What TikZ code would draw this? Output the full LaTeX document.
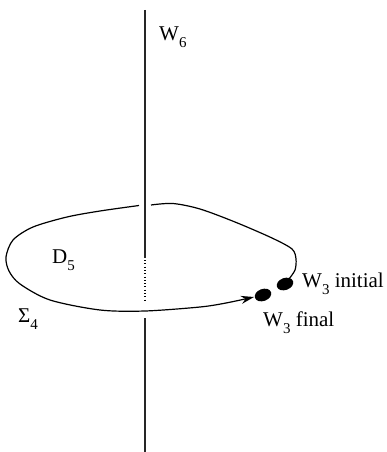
\documentclass[tikz,border=0pt]{standalone}
\usepackage{fontspec}
\setmainfont{Liberation Serif}
\usetikzlibrary{arrows.meta,shapes.geometric}
\newcommand{\lowsub}[1]{\raisebox{-7pt}{\fontsize{15}{15}\selectfont #1}}
\tikzset{
  lbl/.style={anchor=base west,inner sep=0pt,font=\fontsize{21}{21}\selectfont},
  dotnode/.style={ellipse,fill=black,draw=none,minimum width=17pt,minimum height=12pt,inner sep=0pt,rotate=20},
  axis/.style={line width=1.4pt,black!85},
  hidden/.style={line width=1.2pt,dash pattern=on 1pt off 2.3pt},
  loopline/.style={line width=1.2pt},
}
\begin{document}
\begin{tikzpicture}[x=1pt,y=-1pt]
\useasboundingbox (0,0) rectangle (387,452);
% labels
\node[lbl] (w6) at (159,41) {W\lowsub{6}};
\node[lbl] (d5) at (52,263) {D\lowsub{5}};
\node[lbl] (s4) at (18,322) {Σ\lowsub{4}};
\node[lbl] (w3i) at (302,287) {W\lowsub{3} initial};
\node[lbl] (w3f) at (263,326) {W\lowsub{3} final};
% dots
\node[dotnode] (ini) at (285,284) {};
\node[dotnode] (fin) at (263,295) {};
% vertical line W6
\coordinate (vtop) at (145,10);
\coordinate (vA) at (145,258);
\coordinate (vB) at (145,260);
\coordinate (vC) at (145,302);
\coordinate (vD) at (145,318);
\coordinate (vbot) at (145,452);
\draw[axis] (vtop) -- (vA);
\draw[hidden] (vB) -- (vC);
\draw[axis] (vD) -- (vbot);
% loop
\coordinate (gapR) at (151,205);
\coordinate (gapL) at (139,205.5);
\coordinate (iniTop) at (289,279);
\coordinate (finLeft) at (254,297);
\draw[loopline] plot[smooth] coordinates {(iniTop) (295,270) (296,259) (292,249) (272,238) (235,222) (200,209) (173,203.5) (gapR)};
\draw[loopline,-{Stealth[length=13pt,width=8pt]}] plot[smooth] coordinates {(gapL) (100,211) (67,217) (33,227) (13,240) (6,257) (9,271) (20,284) (50,300) (100,310) (145,311) (200,307) (226,303) (finLeft)};
\end{tikzpicture}
\end{document}
